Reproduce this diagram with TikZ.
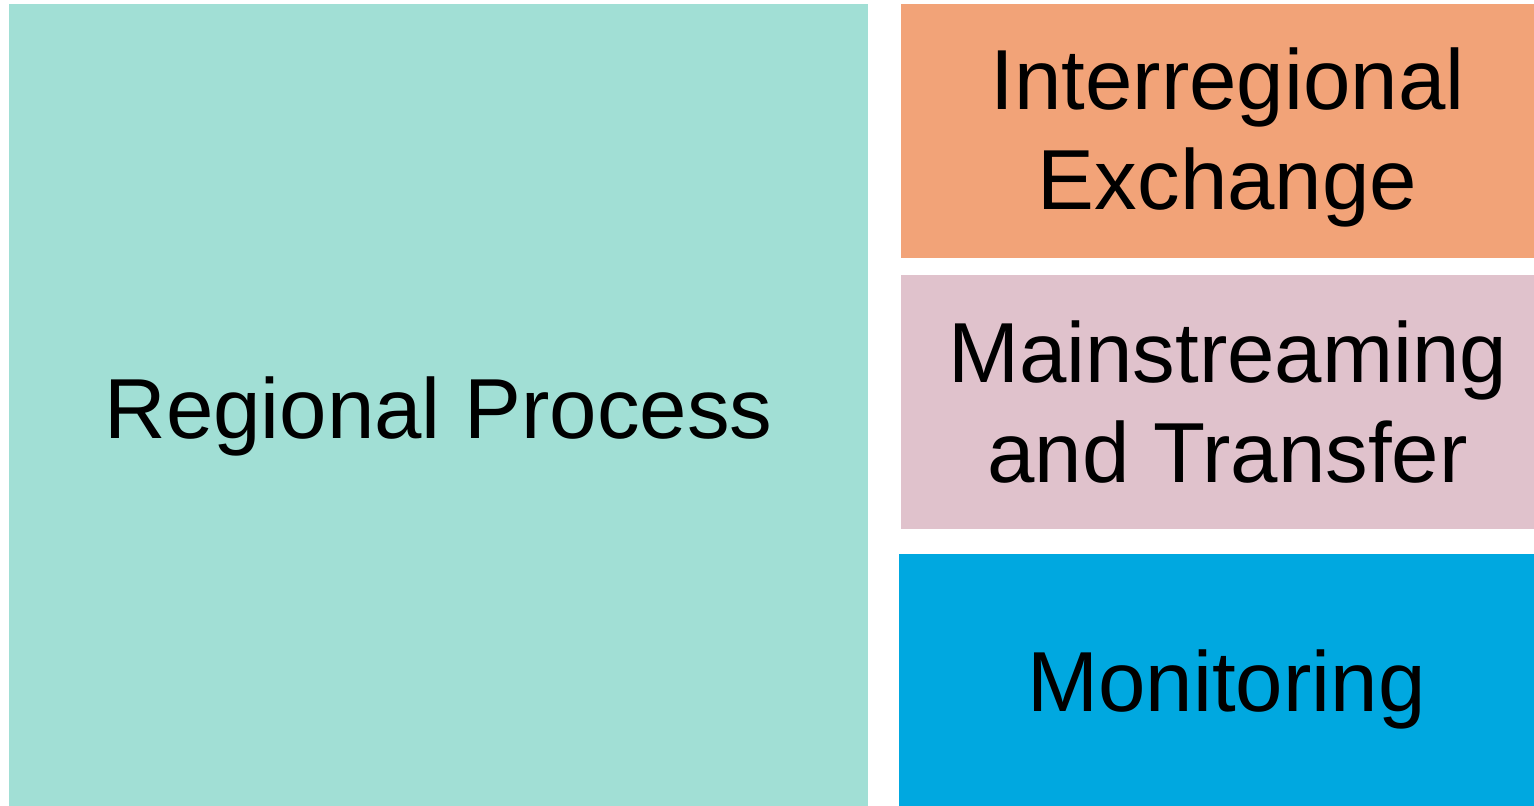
\documentclass[tikz,border=0pt]{standalone}
\usepackage{fontspec}
\setmainfont{Liberation Sans}
\usepackage{xcolor}
\usepackage{tikz}

\definecolor{RegionTeal}{HTML}{A1DFD5}
\definecolor{ExchangeOrange}{HTML}{F2A378}
\definecolor{TransferPink}{HTML}{E0C2CC}
\definecolor{MonitorBlue}{HTML}{00A8E0}

\begin{document}
\begin{tikzpicture}[
        block/.style = {rectangle,
            inner sep=0pt},
        side/.style = {block,
            minimum width=12.66cm,
            minimum height=5.08cm},
        blocktext/.style = {align=center,
            inner sep=0pt,
            font=\fontsize{48.5}{56.7}\selectfont}]

    \useasboundingbox (0,0) rectangle (30.68,-16.12);

    % Large block on the left
    \node[block,
        fill=RegionTeal,
        minimum width=17.18cm,
        minimum height=16.04cm] (regional) at (8.77,-8.10) {};
    \node[blocktext] (regionaltext) at ([yshift=-0.22cm]regional.center) {Regional Process};

    % Three blocks on the right
    \node[side,
        fill=ExchangeOrange] (exchange) at (24.35,-2.62) {};
    \node[blocktext] (exchangetext) at ([shift={(0.2,-0.13)}]exchange.center) {Interregional\\Exchange};

    \node[side,
        fill=TransferPink] (transfer) at (24.35,-8.04) {};
    \node[blocktext] (transfertext) at ([shift={(0.2,0)}]transfer.center) {Mainstreaming\\and Transfer};

    \node[side,
        fill=MonitorBlue,
        minimum width=12.70cm,
        minimum height=5.04cm] (monitoring) at (24.33,-13.60) {};
    \node[blocktext] (monitoringtext) at ([shift={(0.2,-0.18)}]monitoring.center) {Monitoring};

\end{tikzpicture}
\end{document}
